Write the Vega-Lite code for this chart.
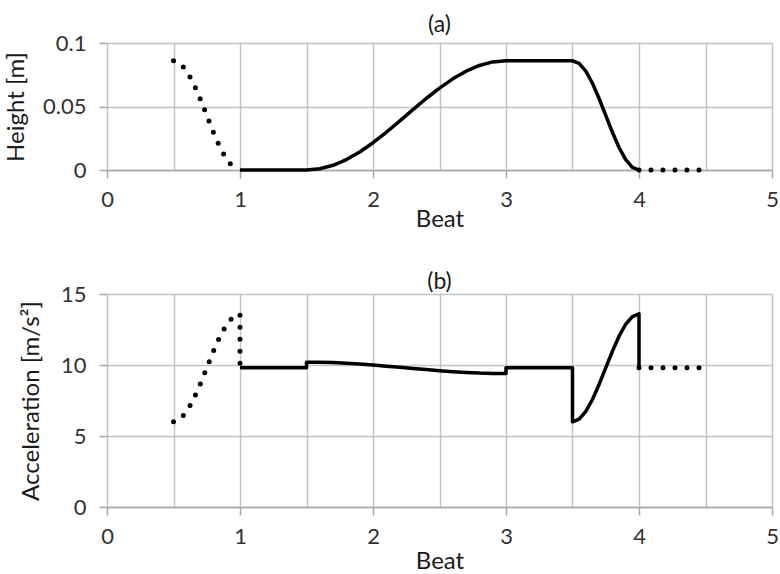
{
  "$schema": "https://vega.github.io/schema/vega-lite/v6.json",
  "padding": {"left": 4, "top": 14, "right": 0, "bottom": 0},
  "spacing": 40,
  "config": {
    "view": {"stroke": null},
    "font": "Lato",
    "axis": {
      "labelFont": "Lato",
      "labelFontSize": 22,
      "labelColor": "#333333",
      "titleFont": "Lato",
      "titleFontSize": 24,
      "titleFontWeight": "normal",
      "titleColor": "#1a1a1a",
      "gridColor": "#c4c4c4",
      "gridWidth": 1.5,
      "domainColor": "#a8a8a8",
      "domainWidth": 1.5,
      "tickColor": "#a8a8a8",
      "tickWidth": 1.5,
      "tickSize": 8
    },
    "title": {"font": "Lato", "fontSize": 23, "fontWeight": "normal", "color": "#1a1a1a", "anchor": "middle"}
  },
  "datasets": {
    "height": [
      {"x": 0.5, "h": 0.086, "seg": "d1", "style": "dot", "i": 1},
      {"x": 0.55, "h": 0.0839, "seg": "d1", "style": "dot", "i": 2},
      {"x": 0.6, "h": 0.0778, "seg": "d1", "style": "dot", "i": 3},
      {"x": 0.65, "h": 0.0683, "seg": "d1", "style": "dot", "i": 4},
      {"x": 0.7, "h": 0.0563, "seg": "d1", "style": "dot", "i": 5},
      {"x": 0.75, "h": 0.043, "seg": "d1", "style": "dot", "i": 6},
      {"x": 0.8, "h": 0.0297, "seg": "d1", "style": "dot", "i": 7},
      {"x": 0.85, "h": 0.0177, "seg": "d1", "style": "dot", "i": 8},
      {"x": 0.9, "h": 0.0082, "seg": "d1", "style": "dot", "i": 9},
      {"x": 0.95, "h": 0.0021, "seg": "d1", "style": "dot", "i": 10},
      {"x": 1.0, "h": 0, "seg": "d1", "style": "dot", "i": 11},
      {"x": 1.0, "h": 0, "seg": "s", "style": "solid", "i": 12},
      {"x": 1.5, "h": 0, "seg": "s", "style": "solid", "i": 13},
      {"x": 1.6, "h": 0.00095, "seg": "s", "style": "solid", "i": 14},
      {"x": 1.7, "h": 0.0037, "seg": "s", "style": "solid", "i": 15},
      {"x": 1.8, "h": 0.0082, "seg": "s", "style": "solid", "i": 16},
      {"x": 1.9, "h": 0.0142, "seg": "s", "style": "solid", "i": 17},
      {"x": 2.0, "h": 0.0215, "seg": "s", "style": "solid", "i": 18},
      {"x": 2.1, "h": 0.0297, "seg": "s", "style": "solid", "i": 19},
      {"x": 2.2, "h": 0.0385, "seg": "s", "style": "solid", "i": 20},
      {"x": 2.3, "h": 0.0475, "seg": "s", "style": "solid", "i": 21},
      {"x": 2.4, "h": 0.0563, "seg": "s", "style": "solid", "i": 22},
      {"x": 2.5, "h": 0.0645, "seg": "s", "style": "solid", "i": 23},
      {"x": 2.6, "h": 0.0718, "seg": "s", "style": "solid", "i": 24},
      {"x": 2.7, "h": 0.0778, "seg": "s", "style": "solid", "i": 25},
      {"x": 2.8, "h": 0.0823, "seg": "s", "style": "solid", "i": 26},
      {"x": 2.9, "h": 0.0851, "seg": "s", "style": "solid", "i": 27},
      {"x": 3.0, "h": 0.086, "seg": "s", "style": "solid", "i": 28},
      {"x": 3.5, "h": 0.086, "seg": "s", "style": "solid", "i": 29},
      {"x": 3.55, "h": 0.0839, "seg": "s", "style": "solid", "i": 30},
      {"x": 3.6, "h": 0.0778, "seg": "s", "style": "solid", "i": 31},
      {"x": 3.65, "h": 0.0683, "seg": "s", "style": "solid", "i": 32},
      {"x": 3.7, "h": 0.0563, "seg": "s", "style": "solid", "i": 33},
      {"x": 3.75, "h": 0.043, "seg": "s", "style": "solid", "i": 34},
      {"x": 3.8, "h": 0.0297, "seg": "s", "style": "solid", "i": 35},
      {"x": 3.85, "h": 0.0177, "seg": "s", "style": "solid", "i": 36},
      {"x": 3.9, "h": 0.0082, "seg": "s", "style": "solid", "i": 37},
      {"x": 3.95, "h": 0.0021, "seg": "s", "style": "solid", "i": 38},
      {"x": 4.0, "h": 0, "seg": "s", "style": "solid", "i": 39},
      {"x": 4.0, "h": 0, "seg": "d2", "style": "dot", "i": 40},
      {"x": 4.5, "h": 0, "seg": "d2", "style": "dot", "i": 41}
    ],
    "accel": [
      {"x": 0.5, "a": 6.0, "seg": "d1", "style": "dot", "i": 1},
      {"x": 0.55, "a": 6.19, "seg": "d1", "style": "dot", "i": 2},
      {"x": 0.6, "a": 6.73, "seg": "d1", "style": "dot", "i": 3},
      {"x": 0.65, "a": 7.57, "seg": "d1", "style": "dot", "i": 4},
      {"x": 0.7, "a": 8.63, "seg": "d1", "style": "dot", "i": 5},
      {"x": 0.75, "a": 9.8, "seg": "d1", "style": "dot", "i": 6},
      {"x": 0.8, "a": 10.97, "seg": "d1", "style": "dot", "i": 7},
      {"x": 0.85, "a": 12.03, "seg": "d1", "style": "dot", "i": 8},
      {"x": 0.9, "a": 12.87, "seg": "d1", "style": "dot", "i": 9},
      {"x": 0.95, "a": 13.41, "seg": "d1", "style": "dot", "i": 10},
      {"x": 1.0, "a": 13.6, "seg": "d1", "style": "dot", "i": 11},
      {"x": 1.0, "a": 9.8, "seg": "d1", "style": "dot", "i": 12},
      {"x": 1.0, "a": 9.8, "seg": "s", "style": "solid", "i": 13},
      {"x": 1.5, "a": 9.8, "seg": "s", "style": "solid", "i": 14},
      {"x": 1.5, "a": 10.2, "seg": "s", "style": "solid", "i": 15},
      {"x": 1.6, "a": 10.19, "seg": "s", "style": "solid", "i": 16},
      {"x": 1.7, "a": 10.17, "seg": "s", "style": "solid", "i": 17},
      {"x": 1.8, "a": 10.12, "seg": "s", "style": "solid", "i": 18},
      {"x": 1.9, "a": 10.07, "seg": "s", "style": "solid", "i": 19},
      {"x": 2.0, "a": 10.0, "seg": "s", "style": "solid", "i": 20},
      {"x": 2.1, "a": 9.92, "seg": "s", "style": "solid", "i": 21},
      {"x": 2.2, "a": 9.84, "seg": "s", "style": "solid", "i": 22},
      {"x": 2.3, "a": 9.76, "seg": "s", "style": "solid", "i": 23},
      {"x": 2.4, "a": 9.68, "seg": "s", "style": "solid", "i": 24},
      {"x": 2.5, "a": 9.6, "seg": "s", "style": "solid", "i": 25},
      {"x": 2.6, "a": 9.53, "seg": "s", "style": "solid", "i": 26},
      {"x": 2.7, "a": 9.48, "seg": "s", "style": "solid", "i": 27},
      {"x": 2.8, "a": 9.43, "seg": "s", "style": "solid", "i": 28},
      {"x": 2.9, "a": 9.41, "seg": "s", "style": "solid", "i": 29},
      {"x": 3.0, "a": 9.4, "seg": "s", "style": "solid", "i": 30},
      {"x": 3.0, "a": 9.8, "seg": "s", "style": "solid", "i": 31},
      {"x": 3.5, "a": 9.8, "seg": "s", "style": "solid", "i": 32},
      {"x": 3.5, "a": 6.0, "seg": "s", "style": "solid", "i": 33},
      {"x": 3.55, "a": 6.19, "seg": "s", "style": "solid", "i": 34},
      {"x": 3.6, "a": 6.73, "seg": "s", "style": "solid", "i": 35},
      {"x": 3.65, "a": 7.57, "seg": "s", "style": "solid", "i": 36},
      {"x": 3.7, "a": 8.63, "seg": "s", "style": "solid", "i": 37},
      {"x": 3.75, "a": 9.8, "seg": "s", "style": "solid", "i": 38},
      {"x": 3.8, "a": 10.97, "seg": "s", "style": "solid", "i": 39},
      {"x": 3.85, "a": 12.03, "seg": "s", "style": "solid", "i": 40},
      {"x": 3.9, "a": 12.87, "seg": "s", "style": "solid", "i": 41},
      {"x": 3.95, "a": 13.41, "seg": "s", "style": "solid", "i": 42},
      {"x": 4.0, "a": 13.6, "seg": "s", "style": "solid", "i": 43},
      {"x": 4.0, "a": 9.8, "seg": "s", "style": "solid", "i": 44},
      {"x": 4.0, "a": 9.8, "seg": "d2", "style": "dot", "i": 45},
      {"x": 4.5, "a": 9.8, "seg": "d2", "style": "dot", "i": 46}
    ]
  },
  "vconcat": [
    {
      "width": 665,
      "height": 127,
      "title": {"text": "(a)", "offset": -5},
      "data": {"name": "height"},
      "encoding": {
        "x": {
          "field": "x", "type": "quantitative",
          "scale": {"domain": [0, 5], "nice": false},
          "axis": {
            "title": "Beat",
            "values": [0, 0.5, 1, 1.5, 2, 2.5, 3, 3.5, 4, 4.5, 5],
            "format": "~g",
            "labelExpr": "datum.value % 1 === 0 ? datum.label : ''",
            "labelFlush": false,
            "labelOverlap": false,
            "labelPadding": 11,
            "tickOpacity": {"condition": {"test": "datum.value % 1 !== 0", "value": 0}, "value": 1},
            "titleY": 56,
            "titleBaseline": "alphabetic"
          }
        },
        "y": {
          "field": "h", "type": "quantitative",
          "scale": {"domain": [0, 0.1], "nice": false},
          "axis": {
            "title": "Height [m]",
            "values": [0, 0.05, 0.1],
            "format": ".2~f",
            "domain": false,
            "labelPadding": 13,
            "titlePadding": 14
          }
        },
        "detail": {"field": "seg"},
        "order": {"field": "i"}
      },
      "layer": [
        {
          "transform": [{"filter": "datum.style === 'solid'"}],
          "mark": {"type": "line", "color": "#000000", "strokeWidth": 3.5, "strokeJoin": "round"}
        },
        {
          "transform": [{"filter": "datum.style === 'dot'"}],
          "mark": {"type": "line", "color": "#000000", "strokeWidth": 5, "strokeCap": "round", "strokeDash": [0, 12]}
        }
      ]
    },
    {
      "width": 665,
      "height": 213,
      "title": {"text": "(b)", "offset": -11},
      "data": {"name": "accel"},
      "encoding": {
        "x": {
          "field": "x", "type": "quantitative",
          "scale": {"domain": [0, 5], "nice": false},
          "axis": {
            "title": "Beat",
            "values": [0, 0.5, 1, 1.5, 2, 2.5, 3, 3.5, 4, 4.5, 5],
            "format": "~g",
            "labelExpr": "datum.value % 1 === 0 ? datum.label : ''",
            "labelFlush": false,
            "labelOverlap": false,
            "labelPadding": 11,
            "tickOpacity": {"condition": {"test": "datum.value % 1 !== 0", "value": 0}, "value": 1},
            "titleY": 61,
            "titleBaseline": "alphabetic"
          }
        },
        "y": {
          "field": "a", "type": "quantitative",
          "scale": {"domain": [0, 15], "nice": false},
          "axis": {
            "title": "Acceleration [m/s²]",
            "values": [0, 5, 10, 15],
            "domain": false,
            "labelPadding": 13,
            "titlePadding": 17
          }
        },
        "detail": {"field": "seg"},
        "order": {"field": "i"}
      },
      "layer": [
        {
          "transform": [{"filter": "datum.style === 'solid'"}],
          "mark": {"type": "line", "color": "#000000", "strokeWidth": 3.5, "strokeJoin": "round"}
        },
        {
          "transform": [{"filter": "datum.style === 'dot'"}],
          "mark": {"type": "line", "color": "#000000", "strokeWidth": 5, "strokeCap": "round", "strokeDash": [0, 12]}
        }
      ]
    }
  ]
}
